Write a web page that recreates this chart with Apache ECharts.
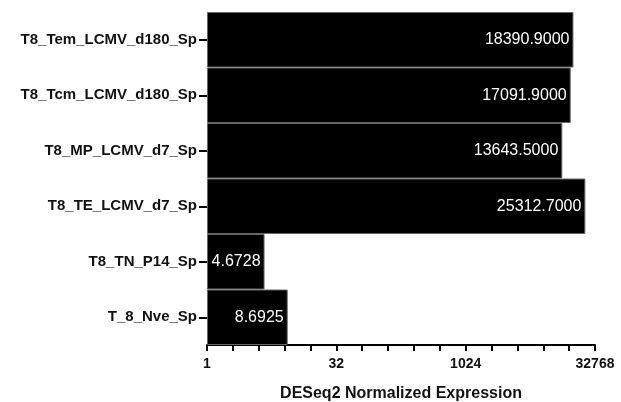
<!DOCTYPE html>
<html>
<head>
<meta charset="utf-8">
<script src="https://cdn.jsdelivr.net/npm/echarts@6/dist/echarts.min.js"></script>
<style>html,body{margin:0;padding:0;background:#fff;}#c{width:621px;height:402px;}</style>
</head>
<body>
<div id="c"></div>
<script>
var categories = ['T8_Tem_LCMV_d180_Sp','T8_Tcm_LCMV_d180_Sp','T8_MP_LCMV_d7_Sp','T8_TE_LCMV_d7_Sp','T8_TN_P14_Sp','T_8_Nve_Sp'];
var values = [18390.9, 17091.9, 13643.5, 25312.7, 4.6728, 8.6925];
var majorTicks = [1, 32, 1024, 32768];

var chart = echarts.init(document.getElementById('c'));
chart.setOption({
  animation: false,
  grid: {left: 207, right: 26, top: 12, bottom: 57, containLabel: false, outerBoundsMode: 'none'},
  xAxis: {
    type: 'log', logBase: 2, min: 1, max: 32768, interval: 1,
    name: 'DESeq2 Normalized Expression', nameLocation: 'middle', nameGap: 41,
    nameTextStyle: {fontFamily: 'Liberation Sans, Arial', fontWeight: 'bold', fontSize: 16, color: '#111'},
    axisLine: {show: true, lineStyle: {color: '#000', width: 2}},
    axisTick: {show: true, length: 6, lineStyle: {color: '#000', width: 2}},
    splitLine: {show: false},
    axisLabel: {
      margin: 12, fontFamily: 'Liberation Sans, Arial', fontWeight: 'bold', fontSize: 14, color: '#111',
      formatter: function (v) { var r = Math.round(v); return majorTicks.indexOf(r) >= 0 ? String(r) : ''; }
    }
  },
  yAxis: {
    type: 'category', data: categories, inverse: true,
    axisLine: {show: false},
    axisTick: {show: true, alignWithLabel: true, length: 8, lineStyle: {color: '#000', width: 2}},
    axisLabel: {margin: 10, fontFamily: 'Liberation Sans, Arial', fontWeight: 'bold', fontSize: 15, color: '#111'}
  },
  series: [{
    type: 'bar', data: values, barCategoryGap: 0,
    itemStyle: {color: '#000', borderColor: '#666', borderWidth: 1},
    label: {
      show: true, position: 'insideRight', distance: 4, color: '#fff',
      fontFamily: 'Liberation Sans, Arial', fontSize: 16,
      formatter: function (p) { return p.value.toFixed(4); }
    }
  }]
});
</script>
</body>
</html>
